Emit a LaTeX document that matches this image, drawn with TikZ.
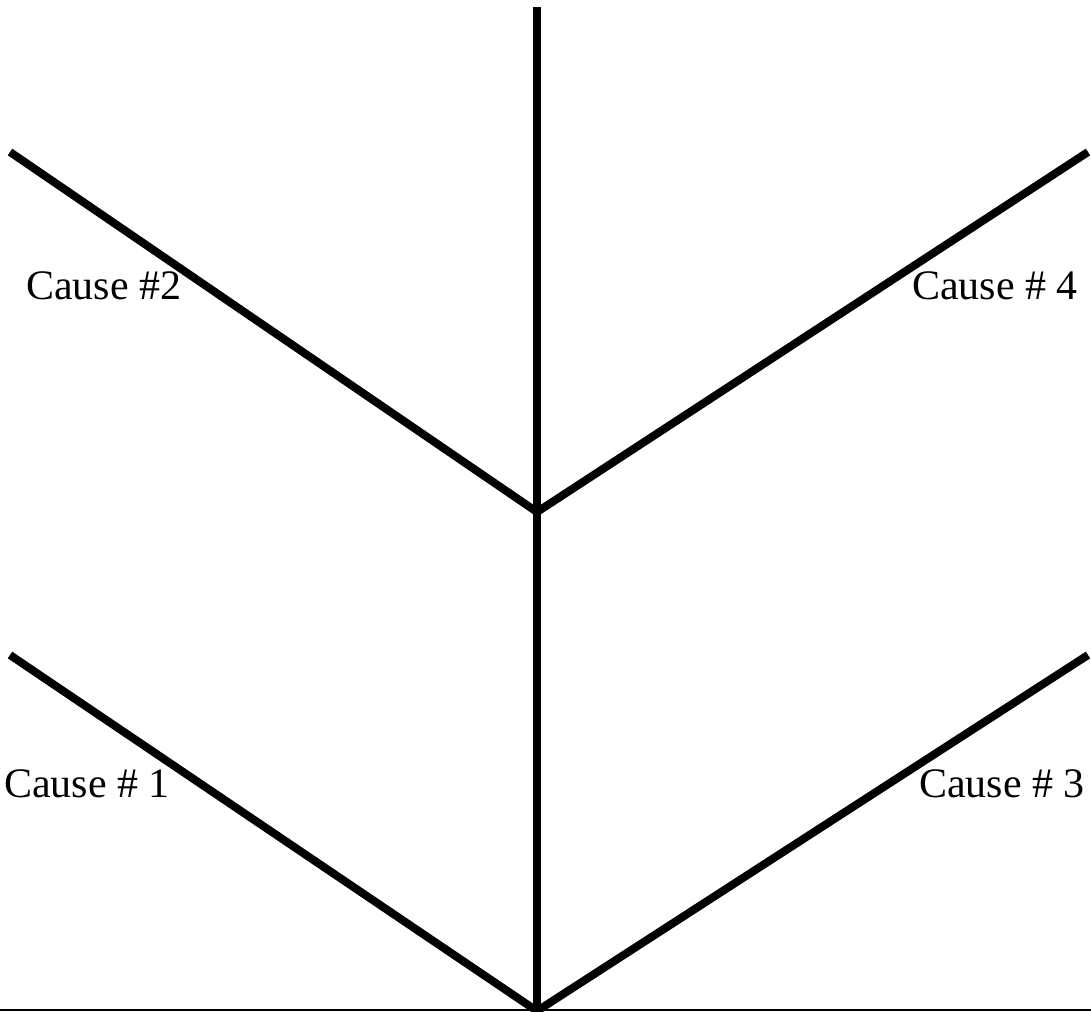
\documentclass[tikz,border=0pt]{standalone}
\usepackage{fontspec}
\setmainfont{Liberation Serif}
\begin{document}
\begin{tikzpicture}[x=1pt,y=-1pt,
  bone/.style={line width=8pt,line cap=butt},
  lbl/.style={anchor=base west,inner sep=0pt,font=\fontsize{42}{50}\selectfont}]
\useasboundingbox (0,0) rectangle (1091,1011);
\coordinate (top) at (537,7);
\coordinate (mid) at (537,512);
\coordinate (bot) at (537,1011);
\coordinate (ul) at (10,152);
\coordinate (ur) at (1088,152);
\coordinate (ll) at (10,655);
\coordinate (lr) at (1088,655);
\coordinate (bl) at (0,1010);
\coordinate (br) at (1091,1010);
\draw[bone] (top) -- (bot);
\draw[bone,line join=miter] (ul) -- (mid) -- (ur);
\draw[bone] (ll) -- (bot) -- (lr);
\draw[line width=2.5pt] (bl) -- (br);
\node[lbl] (c2) at (26,299) {Cause \#2};
\node[lbl] (c4) at (912,299) {Cause \# 4};
\node[lbl] (c1) at (4,797) {Cause \# 1};
\node[lbl] (c3) at (919,797) {Cause \# 3};
\end{tikzpicture}
\end{document}
